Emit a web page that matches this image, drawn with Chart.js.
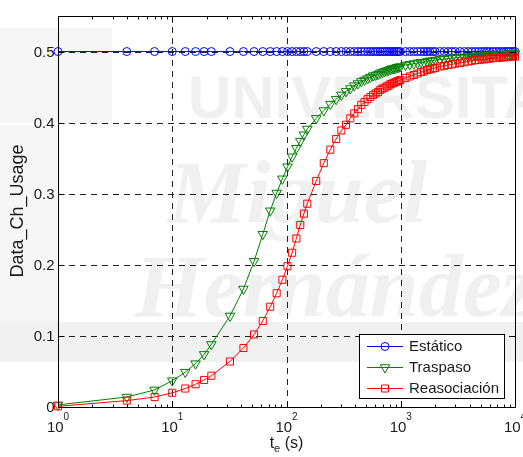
<!DOCTYPE html>
<html>
<head>
<meta charset="utf-8">
<script src="https://cdn.jsdelivr.net/npm/chart.js@4/dist/chart.umd.min.js"></script>
<style>
html, body { margin: 0; padding: 0; background: #fff; }
</style>
</head>
<body>
<canvas id="chart" width="523" height="457"></canvas>
<script>
// simulation times t_e (s)
var times = [1, 4, 7, 10, 13, 16, 19, 22, 32, 42, 52, 62, 72, 82, 92, 102, 112, 122, 132, 142, 152,
  182, 212, 242, 272, 302, 332, 362, 392, 422, 452, 482, 512, 542, 572, 602, 632, 662, 692, 722, 752, 782,
  812, 842, 872, 902, 932, 962, 992,
  1100, 1200, 1300, 1400, 1500, 1600, 1700, 1800, 1900, 2000, 2200, 2400, 2600, 2800, 3000,
  3300, 3600, 3900, 4200, 4500, 4800, 5100, 5400, 5700, 6000,
  6400, 6800, 7200, 7600, 8000, 8400, 8800, 9200, 9600, 10000];

var estatico = [0.5, 0.5, 0.5, 0.5, 0.5, 0.5, 0.5, 0.5, 0.5, 0.5, 0.5, 0.5, 0.5, 0.5, 0.5, 0.5, 0.5, 0.5, 0.5, 0.5, 0.5,
  0.5, 0.5, 0.5, 0.5, 0.5, 0.5, 0.5, 0.5, 0.5, 0.5, 0.5, 0.5, 0.5, 0.5, 0.5, 0.5, 0.5, 0.5, 0.5, 0.5, 0.5,
  0.5, 0.5, 0.5, 0.5, 0.5, 0.5, 0.5,
  0.5, 0.5, 0.5, 0.5, 0.5, 0.5, 0.5, 0.5, 0.5, 0.5, 0.5, 0.5, 0.5, 0.5, 0.5,
  0.5, 0.5, 0.5, 0.5, 0.5, 0.5, 0.5, 0.5, 0.5, 0.5,
  0.5, 0.5, 0.5, 0.5, 0.5, 0.5, 0.5, 0.5, 0.5, 0.5];

var traspaso = [0.003, 0.014, 0.024, 0.037, 0.049, 0.061, 0.074, 0.088, 0.128, 0.166, 0.205, 0.243, 0.276, 0.301, 0.321, 0.338, 0.352, 0.364, 0.374, 0.383, 0.391,
  0.406, 0.417, 0.426, 0.433, 0.439, 0.444, 0.448, 0.452, 0.455, 0.458, 0.460, 0.462, 0.464, 0.466, 0.467, 0.468, 0.470, 0.471, 0.472, 0.473, 0.474,
  0.475, 0.476, 0.476, 0.477, 0.478, 0.478, 0.479,
  0.481, 0.482, 0.483, 0.484, 0.485, 0.485, 0.486, 0.487, 0.487, 0.488, 0.489, 0.489, 0.490, 0.491, 0.491,
  0.492, 0.492, 0.493, 0.493, 0.494, 0.494, 0.494, 0.495, 0.495, 0.495,
  0.495, 0.496, 0.496, 0.496, 0.496, 0.497, 0.497, 0.497, 0.497, 0.497];

var reasociacion = [0.001, 0.009, 0.014, 0.020, 0.026, 0.032, 0.038, 0.044, 0.064, 0.083, 0.102, 0.121, 0.141, 0.160, 0.179, 0.198, 0.217, 0.237, 0.256, 0.272, 0.286,
  0.318, 0.343, 0.362, 0.377, 0.389, 0.397, 0.406, 0.413, 0.419, 0.425, 0.429, 0.433, 0.436, 0.439, 0.441, 0.443, 0.446, 0.448, 0.449, 0.451, 0.452,
  0.454, 0.455, 0.456, 0.457, 0.458, 0.459, 0.460,
  0.463, 0.465, 0.467, 0.469, 0.471, 0.472, 0.474, 0.475, 0.476, 0.477, 0.479, 0.480, 0.481, 0.482, 0.483,
  0.484, 0.485, 0.486, 0.487, 0.488, 0.488, 0.489, 0.489, 0.490, 0.490,
  0.491, 0.491, 0.491, 0.492, 0.492, 0.492, 0.493, 0.493, 0.493, 0.493];

var seriesNames = ['Estático', 'Traspaso', 'Reasociación'];
var xDecades = [1, 10, 100, 1000, 10000];
var yTicks = [0, 0.1, 0.2, 0.3, 0.4, 0.5];
var yTickLabels = ['0', '0.1', '0.2', '0.3', '0.4', '0.5'];

var FONT = "'Liberation Sans', Arial, Helvetica, sans-serif";
var TXT = '#1a1a1a';

function pts(ys) {
  return times.map(function(t, i) { return {x: t, y: ys[i]}; });
}

// little marker painter used by the legend
function marker(ctx, kind, x, y, color) {
  ctx.save();
  ctx.strokeStyle = color;
  ctx.lineWidth = 1;
  ctx.beginPath();
  if (kind == 'circle') {
    ctx.arc(x, y, 4, 0, Math.PI * 2);
  } else if (kind == 'tri') {
    var r = 5.5;
    ctx.moveTo(x, y + r);
    ctx.lineTo(x - r * 0.866, y - r / 2);
    ctx.lineTo(x + r * 0.866, y - r / 2);
    ctx.closePath();
  } else {
    ctx.rect(x - 3.5, y - 3.5, 7, 7);
  }
  ctx.stroke();
  ctx.restore();
}

var frame = {
  id: 'frame',
  beforeDraw: function(chart) {
    // faded university logo in the background
    var ctx = chart.ctx;
    ctx.save();
    ctx.fillStyle = '#f6f6f6';
    ctx.fillRect(0, 28, 112, 95);
    ctx.fillRect(0, 125, 60, 200);
    ctx.fillStyle = '#f1f1f1';
    ctx.fillRect(0, 322, 523, 40);
    ctx.fillStyle = '#f0f0f0';
    ctx.font = 'bold 60px ' + FONT;
    ctx.textBaseline = 'alphabetic';
    ctx.fillText('UNIVERSITAS', 188, 118);
    ctx.font = "italic bold 88px 'Liberation Serif', serif";
    ctx.fillText('Miguel', 168, 222);
    ctx.fillText('Hernández', 135, 316);
    ctx.restore();
  },
  beforeDatasetsDraw: function(chart) {
    var ctx = chart.ctx, a = chart.chartArea;
    var xs = chart.scales.x, ys = chart.scales.y;
    ctx.save();
    ctx.strokeStyle = '#222';
    ctx.lineWidth = 1;
    ctx.setLineDash([6, 5]);
    xDecades.forEach(function(v) {
      var px = Math.round(xs.getPixelForValue(v)) + 0.5;
      if (px <= a.left + 1 || px >= a.right - 1) return;
      ctx.beginPath();
      ctx.moveTo(px, a.top);
      ctx.lineTo(px, a.bottom);
      ctx.stroke();
    });
    yTicks.forEach(function(v) {
      var py = Math.round(ys.getPixelForValue(v)) + 0.5;
      if (py >= a.bottom - 1) return;
      ctx.beginPath();
      ctx.moveTo(a.left, py);
      ctx.lineTo(a.right, py);
      ctx.stroke();
    });
    ctx.restore();
  },
  afterDraw: function(chart) {
    var ctx = chart.ctx, a = chart.chartArea;
    var xs = chart.scales.x, ys = chart.scales.y;
    var L = Math.round(a.left) + 0.5, R = Math.round(a.right) + 0.5;
    var T = Math.round(a.top) + 0.5, B = Math.round(a.bottom) + 0.5;
    ctx.save();
    ctx.strokeStyle = '#000';
    ctx.lineWidth = 1;
    ctx.setLineDash([]);
    ctx.strokeRect(L, T, R - L, B - T);

    // x ticks, major and minor, inward on top and bottom
    ctx.beginPath();
    for (var k = 0; k < 4; k++) {
      for (var d = 1; d <= 10; d++) {
        var v = d * Math.pow(10, k);
        var px = Math.round(xs.getPixelForValue(v)) + 0.5;
        var len = (d == 1 || d == 10) ? 6 : 3;
        ctx.moveTo(px, B); ctx.lineTo(px, B - len);
        ctx.moveTo(px, T); ctx.lineTo(px, T + len);
      }
    }
    yTicks.forEach(function(v) {
      var py = Math.round(ys.getPixelForValue(v)) + 0.5;
      ctx.moveTo(L, py); ctx.lineTo(L + 6, py);
      ctx.moveTo(R, py); ctx.lineTo(R - 6, py);
    });
    ctx.stroke();

    // tick labels
    ctx.fillStyle = TXT;
    ctx.font = '15px ' + FONT;
    ctx.textAlign = 'right';
    ctx.textBaseline = 'middle';
    yTicks.forEach(function(v, i) {
      ctx.fillText(yTickLabels[i], L - 4, ys.getPixelForValue(v) + 1);
    });
    ctx.textBaseline = 'alphabetic';
    xDecades.forEach(function(v, i) {
      var px = xs.getPixelForValue(v);
      ctx.font = '15px ' + FONT;
      var w1 = ctx.measureText('10').width;
      ctx.font = '10px ' + FONT;
      var w2 = ctx.measureText(String(i)).width;
      var x0 = px - (w1 + w2) / 2;
      ctx.textAlign = 'left';
      ctx.font = '15px ' + FONT;
      ctx.fillText('10', x0, 432);
      ctx.font = '10px ' + FONT;
      ctx.fillText(String(i), x0 + w1, 420);
    });

    // axis titles
    ctx.font = '16px ' + FONT;
    ctx.textAlign = 'left';
    var cx = (a.left + a.right) / 2;
    var wt = ctx.measureText('t').width;
    ctx.font = '11px ' + FONT;
    var we = ctx.measureText('e').width;
    ctx.font = '16px ' + FONT;
    var ws = ctx.measureText(' (s)').width;
    var sx = cx - (wt + we + ws) / 2;
    ctx.fillText('t', sx, 448);
    ctx.fillText(' (s)', sx + wt + we, 448);
    ctx.font = '11px ' + FONT;
    ctx.fillText('e', sx + wt, 452);

    ctx.save();
    ctx.translate(18, 211);
    ctx.rotate(-Math.PI / 2);
    ctx.font = '18px ' + FONT;
    ctx.textAlign = 'center';
    ctx.textBaseline = 'middle';
    ctx.fillText('Data_Ch_Usage', 0, 0);
    ctx.restore();

    // legend box
    var bx = 359.5, by = 334.5, bw = 145, bh = 64;
    ctx.fillStyle = '#fff';
    ctx.fillRect(bx, by, bw, bh);
    ctx.strokeStyle = '#000';
    ctx.strokeRect(bx, by, bw, bh);
    var cols = ['#0000ff', '#008000', '#ff0000'];
    var kinds = ['circle', 'tri', 'square'];
    var rows = [346, 367, 388];
    ctx.font = '15px ' + FONT;
    ctx.textAlign = 'left';
    ctx.textBaseline = 'middle';
    for (var i = 0; i < 3; i++) {
      ctx.strokeStyle = cols[i];
      ctx.beginPath();
      ctx.moveTo(367, rows[i] + 0.5);
      ctx.lineTo(403, rows[i] + 0.5);
      ctx.stroke();
      marker(ctx, kinds[i], 385, rows[i] + 0.5, cols[i]);
      ctx.fillStyle = TXT;
      ctx.fillText(seriesNames[i], 409, rows[i] + 1);
    }
    ctx.restore();
  }
};

var ctx = document.getElementById('chart').getContext('2d');
var myChart = new Chart(ctx, {
  type: 'line',
  data: {
    datasets: [{
      label: seriesNames[0],
      data: pts(estatico),
      borderColor: '#0000ff',
      pointStyle: 'circle',
      pointRadius: 4,
      order: 3
    }, {
      label: seriesNames[1],
      data: pts(traspaso),
      borderColor: '#008000',
      pointStyle: 'triangle',
      pointRotation: 180,
      pointRadius: 5.5,
      order: 2
    }, {
      label: seriesNames[2],
      data: pts(reasociacion),
      borderColor: '#ff0000',
      pointStyle: 'rect',
      pointRadius: 5,
      order: 1
    }].map(function(ds) {
      ds.borderWidth = 1;
      ds.pointBorderColor = ds.borderColor;
      ds.pointBackgroundColor = 'rgba(0,0,0,0)';
      ds.pointBorderWidth = 1;
      ds.tension = 0;
      ds.fill = false;
      ds.clip = false;
      return ds;
    })
  },
  options: {
    responsive: false,
    animation: false,
    devicePixelRatio: 1,
    layout: { padding: { left: 58, right: 8, top: 16, bottom: 50 } },
    plugins: { legend: { display: false }, tooltip: { enabled: false } },
    scales: {
      x: { type: 'logarithmic', min: 1, max: 10000, display: false },
      y: { type: 'linear', min: 0, max: 0.55, display: false }
    }
  },
  plugins: [frame]
});
</script>
</body>
</html>
